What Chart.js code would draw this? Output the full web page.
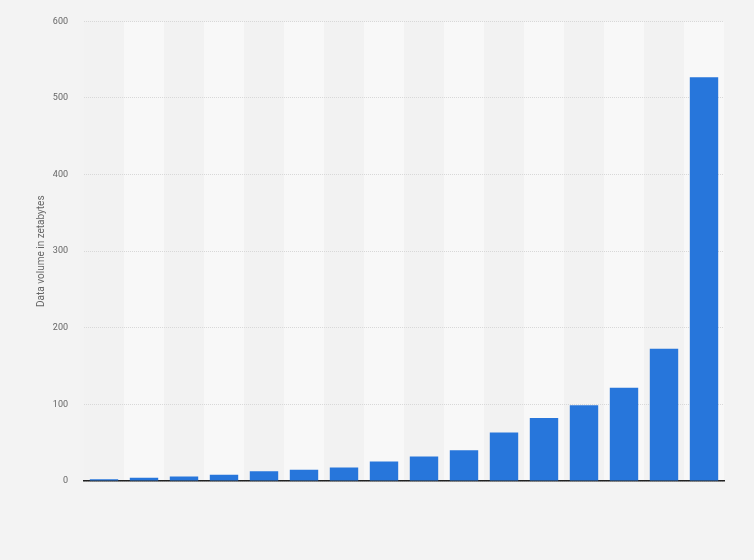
<!DOCTYPE html>
<html>
<head>
<meta charset="utf-8">
<script src="https://cdn.jsdelivr.net/npm/chart.js@4/dist/chart.umd.min.js"></script>
<style>
  html, body { margin: 0; padding: 0; background: #f3f3f3; }
  #wrap { width: 754px; height: 560px; }
</style>
</head>
<body>
<div id="wrap"><canvas id="myChart" width="754" height="560"></canvas></div>
<script>
// 데이터
var categories = ["1", "2", "3", "4", "5", "6", "7", "8", "9", "10", "11", "12", "13", "14", "15", "16"];
var volumes = [2.2, 4.3, 5.8, 8.2, 12.6, 14.8, 17.7, 25.6, 32, 40, 63.2, 82.3, 99, 121.7, 172.5, 527];
var yTicks = [0, 100, 200, 300, 400, 500, 600];

// 카테고리마다 번갈아 배경 띠를 그림
var bandPlugin = {
  id: "bands",
  beforeDraw: function (chart) {
    var ctx = chart.ctx;
    var area = chart.chartArea;
    var x = chart.scales.x;
    var w = (area.right - area.left) / categories.length;
    ctx.save();
    for (var i = 0; i < categories.length; i++) {
      var cx = x.getPixelForValue(i);
      ctx.fillStyle = i % 2 === 1 ? "#f8f8f8" : "#f2f2f2";
      ctx.fillRect(cx - w / 2, area.top, w, area.bottom - area.top);
    }
    ctx.restore();
  },
};

var chartArea = document.getElementById("myChart").getContext("2d");
var myChart = new Chart(chartArea, {
  type: "bar",
  data: {
    labels: categories,
    datasets: [
      {
        label: "Data volume",
        data: volumes,
        backgroundColor: "#2776db",
        borderWidth: 0,
        barPercentage: 0.71,
        categoryPercentage: 1,
      },
    ],
  },
  options: {
    responsive: false,
    animation: false,
    layout: { padding: { left: 35, right: 30, top: 20, bottom: 79 } },
    plugins: { legend: { display: false }, tooltip: { enabled: false } },
    scales: {
      x: {
        ticks: { display: false },
        grid: { display: false, drawTicks: false },
        border: { display: true, color: "#222", width: 1.5 },
        afterFit: function (scale) { scale.height = 0; },
      },
      y: {
        min: 0,
        max: 600,
        afterBuildTicks: function (scale) {
          scale.ticks = yTicks.map(function (v) { return { value: v }; });
        },
        ticks: {
          color: "#666",
          font: { family: "Roboto", size: 9 },
          padding: 16,
        },
        grid: { color: "#d8d8d8", drawTicks: false, lineWidth: 1 },
        border: { display: false, dash: [1, 1] },
        title: {
          display: true,
          text: "Data volume in zetabytes",
          color: "#666",
          font: { family: "Roboto", size: 10 },
          padding: 0,
        },
        afterFit: function (scale) { scale.width = 49; },
      },
    },
  },
  plugins: [bandPlugin],
});
</script>
</body>
</html>
